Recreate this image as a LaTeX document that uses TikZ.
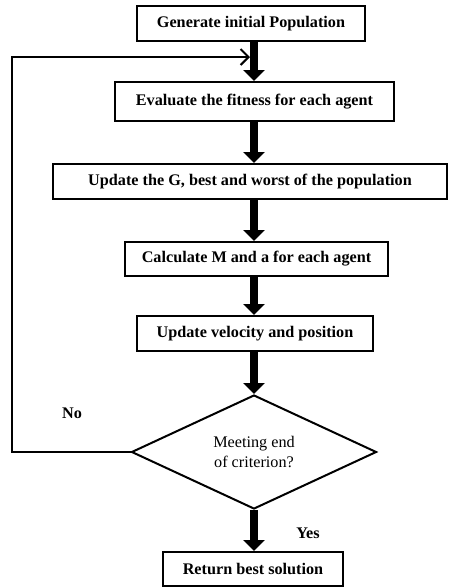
\documentclass[tikz,border=0pt]{standalone}
\usepackage{fontspec}
\setmainfont{Liberation Serif}
\usetikzlibrary{arrows.meta,shapes.geometric}
\begin{document}
\begin{tikzpicture}[x=1pt,y=-1pt,
  every node/.style={font=\fontsize{16.2}{20}\selectfont\bfseries},
  procbox/.style={draw,line width=2pt,rectangle,inner sep=0pt},
  decbox/.style={draw,line width=2pt,diamond,inner sep=0pt,align=center,
    font=\fontsize{16.2}{20}\selectfont},
  thickarrow/.style={line width=8pt,-{Triangle[width=21pt,length=11pt]}},
  loopline/.style={line width=2pt,-{Straight Barb[length=8pt,width=16pt,line width=2pt]}},
  lbl/.style={inner sep=0pt}]
\useasboundingbox (0,0) rectangle (449,587);
\coordinate (axis) at (254,0);
\node[procbox,minimum width=228pt,minimum height=35pt] (b1) at (251,23.5) {Generate initial Population};
\node[procbox,minimum width=279pt,minimum height=39pt] (b2) at (254.5,101.5) {Evaluate the fitness for each agent};
\node[procbox,minimum width=394pt,minimum height=35pt] (b3) at (250,181.5) {Update the G, best and worst of the population};
\node[procbox,minimum width=263pt,minimum height=34pt] (b4) at (256.5,259) {Calculate M and a for each agent};
\node[procbox,minimum width=236pt,minimum height=35pt] (b5) at (255,333.5) {Update velocity and position};
\node[decbox,minimum width=245pt,minimum height=114pt] (d) at (254,452) {Meeting end\\of criterion?};
\node[procbox,minimum width=180pt,minimum height=34pt] (b6) at (253,569) {Return best solution};
\node[lbl] (no) at (72,413) {No};
\node[lbl] (yes) at (308,533) {Yes};
\coordinate (c1) at (12,452);
\coordinate (c2) at (12,57);
\coordinate (c3) at (250,57);
\draw[loopline] (d.west) -- (c1) -- (c2) -- (c3);
\draw[thickarrow] (b1.south -| axis) -- (b2.north -| axis);
\draw[thickarrow] (b2.south -| axis) -- (b3.north -| axis);
\draw[thickarrow] (b3.south -| axis) -- (b4.north -| axis);
\draw[thickarrow] (b4.south -| axis) -- (b5.north -| axis);
\draw[thickarrow] (b5.south -| axis) -- (d.north);
\draw[thickarrow] (d.south) -- (b6.north -| axis);
\end{tikzpicture}
\end{document}
